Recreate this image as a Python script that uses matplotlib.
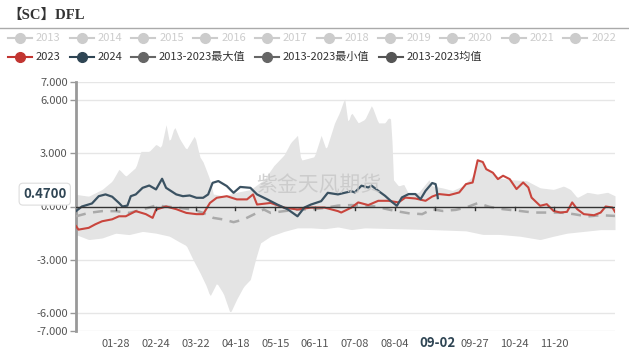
import matplotlib
matplotlib.use("Agg")
import matplotlib.pyplot as plt
from matplotlib.lines import Line2D
import matplotlib.transforms as mtransforms
import numpy as np

plt.rcParams['font.family'] = ['Noto Sans CJK SC', 'DejaVu Sans']

# ---------------- data (day of year, value) ----------------
max_days = [1, 9.6, 18.7, 25.5, 30.1, 34.7, 41.5, 44.9, 50.6, 55.2, 58.6, 62, 64.3, 67.7, 71.2, 75.7,
            81.4, 84.8, 87.1, 91.7, 94, 100.8, 109.9, 119.1, 128.2, 135, 141.9, 146.4, 151, 153.3,
            157.9, 162.4, 167, 170.4, 176.1, 179.5, 182.9, 185.2, 187.5, 192.1, 196.6, 201.2, 205.7,
            210.3, 212.6, 214.4, 216, 219.4, 222.9, 226.3, 233.1, 240, 242.2, 249.1, 255.9, 262.8,
            269.6, 273, 276.5, 278.8, 287.9, 297, 306.1, 310.7, 315.3, 324.4, 331.2, 335.8, 340.4,
            347.2, 354.1, 360.9, 366]
max_vals = [0.68, 0.58, 0.96, 1.43, 2.1, 1.7, 2.2, 3.1, 3.1, 3.5, 3.3, 4.6, 3.6, 4.5, 3.8, 3.2,
            4.0, 2.8, 2.5, 1.5, 0.7, 0.6, 0.8, 0.95, 1.5, 2.3, 2.9, 3.6, 4.0, 2.6,
            2.7, 2.8, 4.0, 3.2, 4.7, 5.3, 6.1, 4.7, 5.3, 4.7, 4.9, 5.7, 4.7,
            4.7, 5.0, 4.9, 1.5, 1.15, 1.25, 0.7, 0.8, 1.5, 1.15, 1.05, 0.9, 1.15,
            1.7, 2.65, 2.5, 2.1, 1.6, 1.5, 1.45, 1.25, 1.05, 0.96, 1.15, 0.96, 0.5,
            0.8, 0.7, 0.8, 0.6]

min_days = [1, 9.6, 18.7, 27.8, 36.9, 46.1, 55.2, 64.3, 71.2, 75.7, 80.3, 84.8, 89.4, 91.7, 96.3,
            100.8, 105.4, 109.9, 114.5, 119.1, 122.5, 125.9, 132.8, 141.9, 151, 160.1, 169.3, 178.4,
            187.5, 196.6, 219.4, 242.2, 265.1, 276.5, 287.9, 301.6, 315.3, 324.4, 333.5, 344.9,
            356.3, 366]
min_vals = [-1.58, -1.86, -1.77, -1.5, -1.58, -1.4, -1.5, -1.67, -2.0, -2.2, -3.0, -3.7, -4.5, -5.05, -4.3,
            -4.9, -6.0, -5.2, -4.5, -4.1, -3.0, -2.05, -1.67, -1.4, -1.2, -1.2, -1.25, -1.15,
            -1.3, -1.2, -1.25, -1.3, -1.37, -1.57, -1.57, -1.67, -1.86, -1.67, -1.5, -1.4,
            -1.3, -1.3]

mean_days = [1, 9.6, 18.7, 27.8, 36.9, 46.1, 55.2, 62, 71.2, 80.3, 87.1, 94, 100.8, 107.7, 114.5,
             121.3, 128.2, 132.8, 141.9, 151, 160.1, 169.3, 178.4, 187.5, 201.2, 217.1, 226.3, 235.4,
             242.2, 249.1, 258.2, 265.1, 273, 281, 290.2, 301.6, 310.7, 319.8, 329, 338.1, 347.2,
             356.3, 366]
mean_vals = [-0.55, -0.36, -0.26, -0.26, -0.36, -0.17, 0.06, 0.0, -0.08, -0.17, -0.36, -0.64, -0.73, -0.88, -0.73,
             -0.45, -0.17, -0.36, -0.26, -0.17, -0.17, -0.08, 0.05, 0.08, 0.04, -0.25, -0.38, -0.43,
             -0.15, -0.25, -0.19, -0.06, 0.19, -0.02, -0.15, -0.25, -0.34, -0.34, -0.34, -0.43, -0.56,
             -0.49, -0.53]

y2023_days = [1, 2.7, 9.6, 14.1, 18.7, 25.5, 30.1, 34.7, 41.5, 48.3, 52.9, 55.2, 62, 68.9, 75.7, 82.6,
              87.1, 91.7, 96.3, 103.1, 109.9, 116.8, 120.9, 123.6, 132.8, 141.9, 151, 160.1, 169.3,
              178.4, 180.6, 187.5, 192.1, 198.9, 205.7, 212.6, 219.4, 224, 230.8, 237.7, 242.2, 246.8,
              253.7, 260.5, 265.1, 269.6, 273, 276.5, 278.8, 283.3, 286.7, 290.2, 294.7, 299.3, 303.8,
              307.3, 309.5, 315.3, 319.8, 324.4, 329, 333.5, 337, 340.4, 344.9, 351.8, 356.3, 359.7,
              364.3, 366]
y2023_vals = [-1.1, -1.3, -1.2, -1.0, -0.83, -0.72, -0.55, -0.55, -0.26, -0.43, -0.64, -0.17, 0.0, -0.15, -0.36, -0.43,
              -0.43, 0.2, 0.49, 0.58, 0.4, 0.4, 0.68, 0.11, 0.2, -0.06, -0.17, -0.06, -0.06,
              -0.26, -0.34, -0.06, 0.23, 0.08, 0.32, 0.32, 0.23, 0.5, 0.45, 0.32, 0.56, 0.7,
              0.64, 0.79, 1.26, 1.35, 2.6, 2.5, 2.1, 1.9, 1.54, 1.73, 1.54, 0.98, 1.35,
              1.07, 0.5, 0.04, 0.13, -0.25, -0.34, -0.3, 0.23, -0.15, -0.43, -0.49, -0.34, 0.0,
              -0.06, -0.3]

y2024_days = [1, 5, 11.8, 16.4, 21, 25.5, 30.1, 32.4, 35.8, 38.1, 41.5, 46.1, 50.6, 55.2, 59.3, 62,
              68.9, 73.4, 78, 82.6, 87.1, 90.5, 93.5, 97.4, 103.1, 107.7, 112.2, 119.1, 123.6, 130.5,
              137.3, 144.2, 151, 155.6, 160.1, 167, 171.5, 178.4, 182.9, 187.5, 189.8, 194.3, 198.9,
              201.2, 205.7, 210.3, 214.9, 218.3, 221.7, 226.3, 230.8, 234.3, 237.7, 242.2, 244.5,
              245, 246]
y2024_vals = [-0.26, 0.0, 0.17, 0.58, 0.68, 0.55, 0.2, 0.0, 0.05, 0.58, 0.68, 1.05, 1.18, 0.96, 1.56, 1.05,
              0.68, 0.58, 0.62, 0.49, 0.49, 0.68, 1.33, 1.43, 1.15, 0.77, 1.1, 1.05, 0.68, 0.4,
              0.11, -0.15, -0.55, -0.06, 0.11, 0.3, 0.77, 0.68, 0.77, 0.86, 0.79, 1.17, 1.07,
              1.17, 0.88, 0.6, 0.26, 0.04, 0.51, 0.7, 0.7, 0.41, 0.88, 1.32, 1.26,
              1.07, 0.47]

tick_days = [28, 55, 82, 109, 136, 163, 190, 217, 244, 271, 298, 325]
tick_labels = ["01-28", "02-24", "03-22", "04-18", "05-15", "06-11", "07-08", "08-04",
               "", "09-27", "10-24", "11-20"]
y_ticks = [7, 6, 3, 0, -3, -6, -7]
pointer_day = 246
pointer_label = "09-02"
pointer_value = 0.47

legend_row1 = ["2013", "2014", "2015", "2016", "2017", "2018", "2019", "2020", "2021", "2022"]
legend_row2 = ["2023", "2024", "2013-2023最大值", "2013-2023最小值", "2013-2023均值"]

# ---------------- figure ----------------
W, H = 629, 352
fig = plt.figure(figsize=(W / 100, H / 100), dpi=100)

def fx(px):
    return px / W

def fy(py):
    return 1 - py / H

ax = fig.add_axes([fx(76), fy(331), fx(615) - fx(76), fy(82) - fy(331)])
ax.set_xlim(1, 366)
ax.set_ylim(-7, 7)

# area between max and min (interpolate on common grid)
grid = np.arange(1, 367)
mx = np.interp(grid, max_days, max_vals)
mn = np.interp(grid, min_days, min_vals)
ax.fill_between(grid, mn, mx, color="#e4e4e4", lw=0, zorder=1)

# grid lines
for yv in y_ticks:
    if yv != 0:
        ax.axhline(yv, color="#e6e6e6", lw=1, zorder=0.5)

ax.plot(mean_days, mean_vals, color="#aaaaaa", lw=1.8, dashes=(4, 3), zorder=3)
ax.plot(y2023_days, y2023_vals, color="#c9453d", lw=1.5, zorder=4)
ax.plot(y2024_days, y2024_vals, color="#3b5262", lw=1.6, zorder=5)

# zero axis line with small ticks
ax.axhline(0, color="#333333", lw=1, zorder=6)
for d in tick_days:
    ax.plot([d, d], [0, -0.22], color="#333333", lw=1, zorder=6)

# spines
for s in ["top", "right", "bottom"]:
    ax.spines[s].set_visible(False)
ax.spines["left"].set_color("#999999")
ax.spines["left"].set_linewidth(2)

ax.set_yticks(y_ticks)
ax.set_yticklabels([f"{v:.3f}" for v in y_ticks], fontsize=8, color="#555555")
ax.tick_params(axis="y", length=4, width=1, color="#999999", pad=2)

ax.set_xticks(tick_days)
ax.set_xticklabels(tick_labels, fontsize=8, color="#555555")
ax.tick_params(axis="x", length=0, pad=6)

# axis pointer labels
trans = mtransforms.blended_transform_factory(ax.transData, ax.transAxes)
ax.text(pointer_day, -0.048, pointer_label, transform=trans, ha="center", va="center",
        fontsize=9.5, fontweight="bold", color="#2f4554",
        bbox=dict(boxstyle="square,pad=0.35", fc="white", ec="none"), zorder=10, clip_on=False)
transy = mtransforms.blended_transform_factory(ax.transAxes, ax.transData)
transy = mtransforms.offset_copy(transy, fig=fig, x=0, y=4, units="dots")
ax.text(-0.058, pointer_value, f"{pointer_value:.4f}", transform=transy, ha="center", va="center",
        fontsize=9.5, fontweight="bold", color="#2f4554",
        bbox=dict(boxstyle="round,pad=0.3", fc="white", ec="#dddddd", lw=0.8), zorder=10, clip_on=False)

# watermark (placed in pixel position of the reference)
wm_x = (318 - 77.5) / 1.461 + 1
wm_y = (207 - 185) / 17.75
ax.text(wm_x, wm_y, "紫金天风期货", fontsize=15, color="#c8c8c8",
        ha="center", va="center", zorder=7, alpha=0.85)

# title and separator
fig.text(fx(7), fy(15), "【SC】DFL", fontsize=10.5, fontweight="bold", color="#333333",
         family=["Liberation Serif", "Noto Sans CJK SC"], ha="left", va="center")
fig.add_artist(Line2D([0, 1], [fy(28), fy(28)], transform=fig.transFigure, color="#aaaaaa", lw=1))

# legends
def legend_item(cx, py, color, text, tcolor, tx):
    fig.add_artist(Line2D([fx(cx - 12), fx(cx + 12)], [fy(py), fy(py)], transform=fig.transFigure,
                          color=color, lw=1.5))
    fig.add_artist(Line2D([fx(cx)], [fy(py)], transform=fig.transFigure, marker="o",
                          markersize=7, color=color, lw=0))
    fig.text(fx(tx), fy(py), text, fontsize=8, color=tcolor, ha="left", va="center")

for i, lab in enumerate(legend_row1):
    tx = 36 + 61.7 * i
    legend_item(tx - 16, 38, "#cccccc", lab, "#cccccc", tx)

row2_tx = [36, 98, 159, 283, 407]
row2_col = ["#c23531", "#2f4554", "#666666", "#666666", "#555555"]
for lab, tx, c in zip(legend_row2, row2_tx, row2_col):
    legend_item(tx - 16, 57, c, lab, "#333333", tx)

fig.savefig("out.png", dpi=100)
